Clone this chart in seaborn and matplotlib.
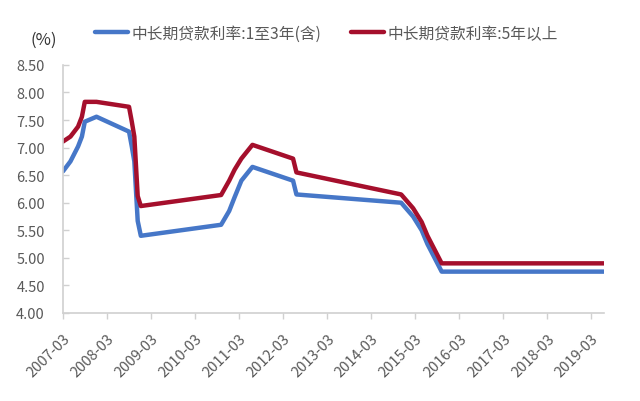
"""China medium/long-term loan benchmark rates, 2007-2019."""
import matplotlib

matplotlib.use("Agg")
import matplotlib.dates as mdates
import matplotlib.pyplot as plt
import pandas as pd
import seaborn as sns

# rate change dates and levels (%)
DATES = [
    "2007-03-18", "2007-05-19", "2007-07-21", "2007-08-22", "2007-09-15",
    "2007-12-21", "2008-09-16", "2008-10-09", "2008-10-30", "2008-11-27",
    "2008-12-23", "2010-10-20", "2010-12-26", "2011-02-09", "2011-04-06",
    "2011-07-07", "2012-06-08", "2012-07-06", "2014-11-22", "2015-03-01",
    "2015-05-11", "2015-06-28", "2015-08-26", "2015-10-24", "2019-06-30",
]
RATE_1_3Y = [
    6.57, 6.75, 7.02, 7.20, 7.47, 7.56, 7.29, 7.02, 6.75, 5.67,
    5.40, 5.60, 5.85, 6.10, 6.40, 6.65, 6.40, 6.15, 6.00, 5.75,
    5.50, 5.25, 5.00, 4.75, 4.75,
]
RATE_5Y = [
    7.11, 7.20, 7.38, 7.56, 7.83, 7.83, 7.74, 7.47, 7.20, 6.12,
    5.94, 6.14, 6.40, 6.60, 6.80, 7.05, 6.80, 6.55, 6.15, 5.90,
    5.65, 5.40, 5.15, 4.90, 4.90,
]
LABEL_1_3Y = "中长期贷款利率:1至3年(含)"
LABEL_5Y = "中长期贷款利率:5年以上"
TICK_DATES = pd.date_range("2007-03-01", periods=13, freq="12MS") + pd.Timedelta(days=17)
Y_TICKS = [4.0, 4.5, 5.0, 5.5, 6.0, 6.5, 7.0, 7.5, 8.0, 8.5]

BLUE = "#4677C8"
RED = "#A50F2C"
GREY = "#595959"
AXIS_GREY = "#D0D0D0"

sns.set_style("white")
plt.rcParams["font.family"] = ["Noto Sans CJK SC", "DejaVu Sans"]

df = pd.DataFrame({"date": pd.to_datetime(DATES), "r13": RATE_1_3Y, "r5": RATE_5Y})

fig = plt.figure(figsize=(6.4, 4.02), dpi=100)
ax = fig.add_axes([0.0984, 0.219, 0.845, 0.617])

sns.lineplot(data=df, x="date", y="r13", ax=ax, color=BLUE, linewidth=3.2, label=LABEL_1_3Y)
sns.lineplot(data=df, x="date", y="r5", ax=ax, color=RED, linewidth=3.2, label=LABEL_5Y)

ax.set_xlim(pd.Timestamp("2007-03-18"), pd.Timestamp("2019-06-30"))
ax.set_ylim(4.0, 8.5)
ax.set_yticks(Y_TICKS)
ax.set_yticklabels([f"{v:.2f}" for v in Y_TICKS])
ax.set_xticks(TICK_DATES)
ax.xaxis.set_major_formatter(mdates.DateFormatter("%Y-%m"))
ax.set_xlabel("")
ax.set_ylabel("")

for side in ["top", "right"]:
    ax.spines[side].set_visible(False)
for side in ["left", "bottom"]:
    ax.spines[side].set_color(AXIS_GREY)
    ax.spines[side].set_linewidth(1.2)

ax.tick_params(axis="x", direction="out", length=4, color=AXIS_GREY, width=1,
               labelsize=10.5, labelcolor=GREY, pad=9, bottom=True)
ax.tick_params(axis="y", direction="in", length=4, color=AXIS_GREY, width=1,
               labelsize=10.5, labelcolor=GREY, pad=13, left=True)
for lbl in ax.get_xticklabels():
    lbl.set_rotation(45)
    lbl.set_ha("right")
    lbl.set_rotation_mode("anchor")

ax.get_legend().remove()
handles, labels = ax.get_legend_handles_labels()
fig.legend(handles, labels, loc="center", bbox_to_anchor=(0.51, 0.915), ncol=2,
           frameon=False, fontsize=11.3, handlelength=2.1, handletextpad=0.2,
           columnspacing=1.9, labelcolor=GREY)

fig.text(0.069, 0.9, "(%)", ha="center", va="center", fontsize=12, color="#333333")

fig.savefig("out.png", dpi=100)
